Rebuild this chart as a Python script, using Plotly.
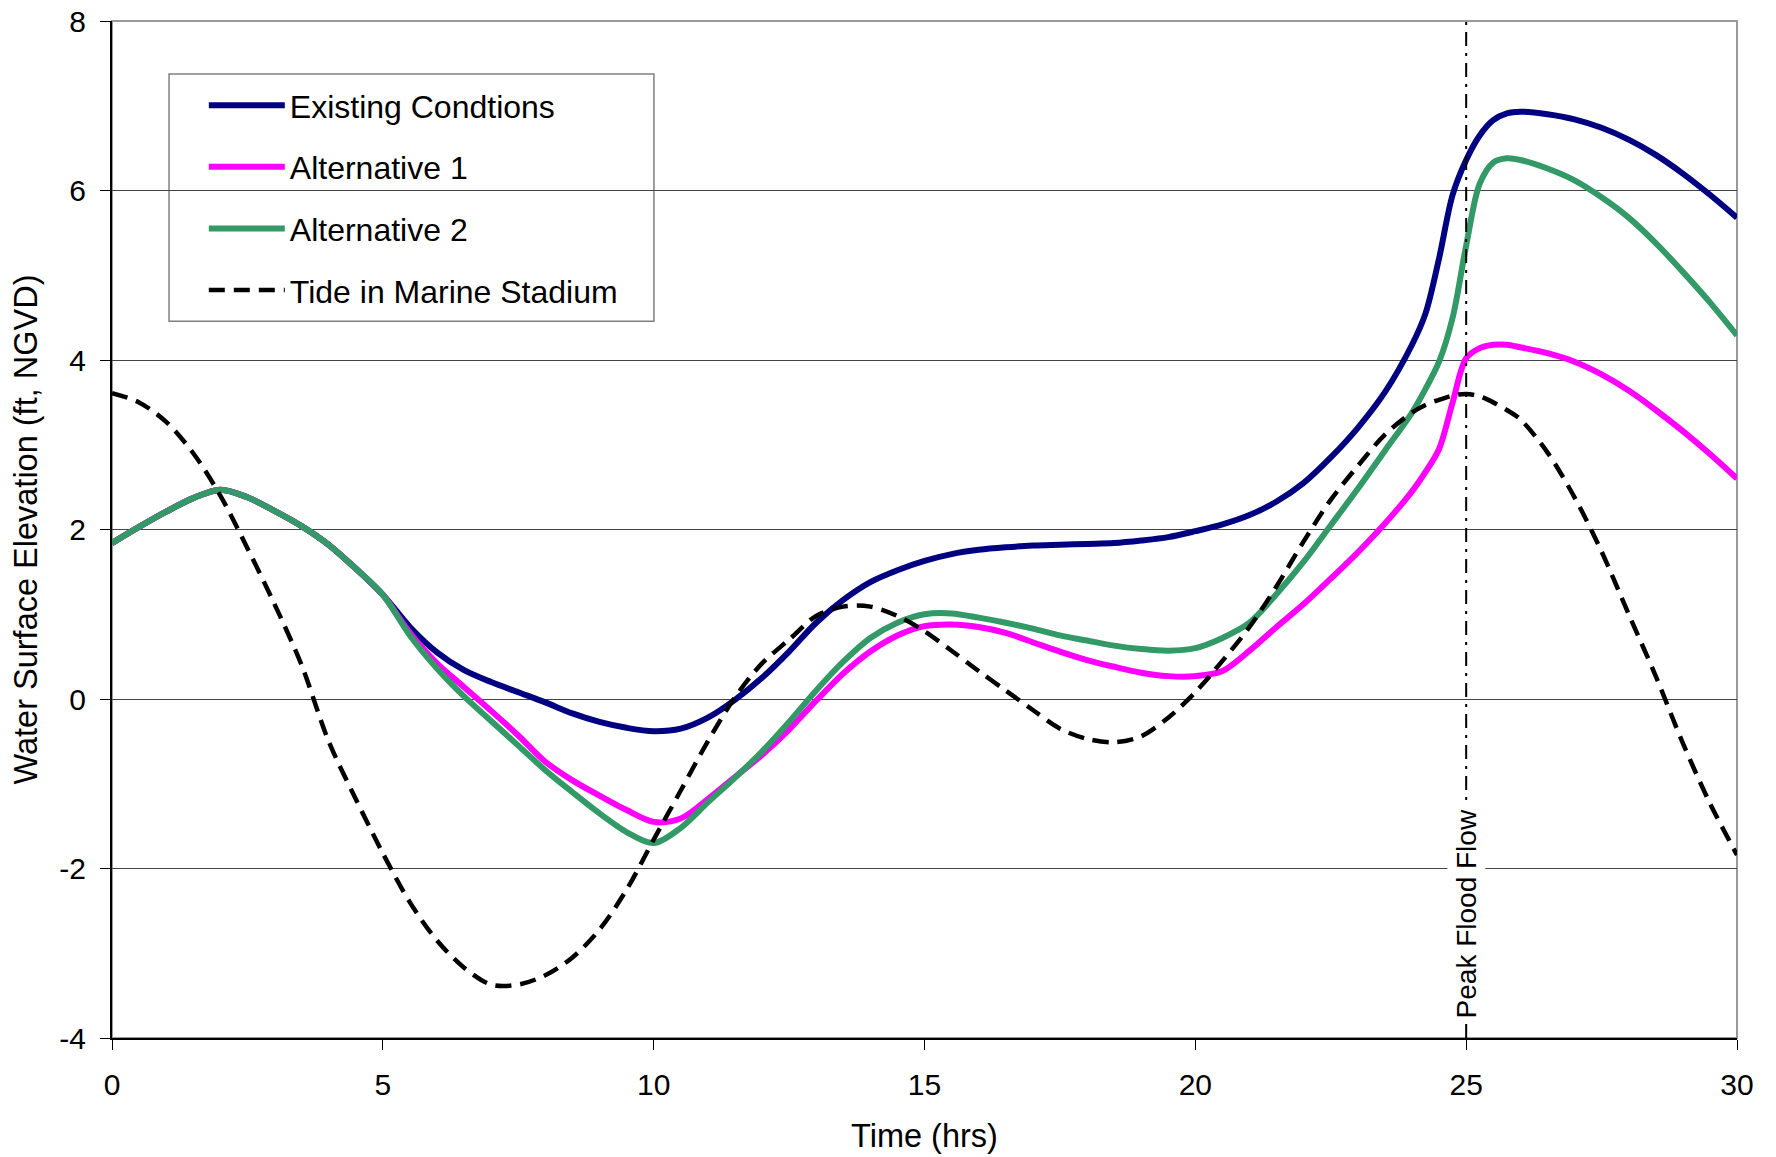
import plotly.graph_objects as go

# ---- data ----
time_hrs = [0, 0.5, 1, 1.5, 2, 2.5, 3, 3.5, 4, 4.5, 5, 5.5, 6, 6.5, 7, 7.5, 8, 8.5, 9, 9.5,
            10, 10.5, 11, 11.5, 12, 12.5, 13, 13.5, 14, 14.5, 15, 15.5, 16, 16.5, 17, 17.5,
            18, 18.5, 19, 19.5, 20, 20.5, 21, 21.5, 22, 22.5, 23, 23.5, 24, 24.25, 24.5,
            24.75, 25, 25.25, 25.5, 25.75, 26, 26.5, 27, 27.5, 28, 28.5, 29, 29.5, 30]

existing = [1.84, 2.03, 2.21, 2.37, 2.47, 2.38, 2.22, 2.04, 1.82, 1.54, 1.23, 0.85, 0.55, 0.34,
            0.20, 0.08, -0.04, -0.17, -0.27, -0.34, -0.38, -0.35, -0.22, -0.01, 0.25, 0.56,
            0.90, 1.17, 1.38, 1.52, 1.63, 1.71, 1.76, 1.79, 1.81, 1.82, 1.83, 1.84, 1.87, 1.91,
            1.98, 2.06, 2.17, 2.33, 2.55, 2.85, 3.20, 3.62, 4.18, 4.55, 5.20, 5.95, 6.36, 6.65,
            6.83, 6.91, 6.93, 6.90, 6.84, 6.74, 6.60, 6.42, 6.20, 5.95, 5.68]

alt1 = [1.84, 2.03, 2.21, 2.37, 2.47, 2.38, 2.22, 2.04, 1.82, 1.54, 1.23, 0.78, 0.42, 0.14,
        -0.14, -0.43, -0.74, -0.96, -1.14, -1.31, -1.45, -1.41, -1.18, -0.92, -0.66, -0.36,
        -0.02, 0.30, 0.56, 0.75, 0.86, 0.88, 0.85, 0.78, 0.67, 0.56, 0.46, 0.38, 0.31, 0.27,
        0.27, 0.33, 0.57, 0.85, 1.12, 1.42, 1.73, 2.07, 2.45, 2.68, 2.95, 3.50, 4.02, 4.14,
        4.18, 4.18, 4.15, 4.08, 3.98, 3.83, 3.64, 3.41, 3.16, 2.89, 2.60]

alt2 = [1.84, 2.03, 2.21, 2.37, 2.47, 2.38, 2.22, 2.04, 1.82, 1.54, 1.23, 0.75, 0.36, 0.03,
        -0.26, -0.55, -0.84, -1.10, -1.35, -1.57, -1.70, -1.52, -1.22, -0.93, -0.62, -0.27,
        0.10, 0.44, 0.72, 0.90, 1.00, 1.01, 0.96, 0.90, 0.83, 0.75, 0.69, 0.63, 0.59, 0.57,
        0.60, 0.72, 0.90, 1.24, 1.62, 2.05, 2.48, 2.93, 3.38, 3.66, 3.98, 4.50, 5.35, 6.08,
        6.33, 6.38, 6.36, 6.26, 6.12, 5.92, 5.68, 5.38, 5.04, 4.68, 4.29]

tide = [3.61, 3.50, 3.27, 2.90, 2.40, 1.78, 1.12, 0.40, -0.50, -1.18, -1.82, -2.40, -2.85,
        -3.17, -3.37, -3.37, -3.26, -3.05, -2.72, -2.25, -1.66, -1.08, -0.50, 0.02, 0.42,
        0.70, 0.98, 1.09, 1.09, 0.98, 0.80, 0.57, 0.33, 0.10, -0.13, -0.35, -0.47, -0.51,
        -0.44, -0.22, 0.08, 0.45, 0.85, 1.33, 1.86, 2.35, 2.75, 3.12, 3.38, 3.47, 3.53,
        3.58, 3.60, 3.57, 3.50, 3.41, 3.30, 2.91, 2.38, 1.74, 1.00, 0.27, -0.52, -1.23, -1.84]

series_names = ["Existing Condtions", "Alternative 1", "Alternative 2", "Tide in Marine Stadium"]
y_ticks = [-4, -2, 0, 2, 4, 6, 8]
y_tick_text = ["-4", "-2", "0", "2", "4", "6", "8"]
x_ticks = [0, 5, 10, 15, 20, 25, 30]
peak_time = 25
peak_label = "Peak Flood Flow"

FONT = "Liberation Sans, Arial, sans-serif"

fig = go.Figure()
styles = [
    dict(color="#000080", width=6),
    dict(color="#FF00FF", width=6),
    dict(color="#339966", width=6),
    dict(color="#000000", width=4.5, dash="16px,9px"),
]
for i, (name, ys) in enumerate(zip(series_names, [existing, alt1, alt2, tide])):
    fig.add_trace(go.Scatter(
        x=time_hrs, y=ys, name=name, mode="lines",
        line=dict(shape="spline", smoothing=0.9, **styles[i]),
        legendgroup=f"g{i}",
    ))

fig.update_layout(
    width=1776, height=1157,
    margin=dict(l=112, r=39, t=21, b=119, autoexpand=False),
    paper_bgcolor="white", plot_bgcolor="white",
    font=dict(family=FONT, size=30, color="black"),
    showlegend=True,
    legend=dict(
        x=0.0565, y=0.944, xanchor="left", yanchor="top",
        bgcolor="rgba(0,0,0,0)", borderwidth=0,
        font=dict(size=32, family=FONT),
        itemwidth=76, tracegroupgap=17, traceorder="grouped",
    ),
    xaxis=dict(
        range=[0, 30], tickvals=x_ticks, showgrid=False, zeroline=False,
        showline=True, linecolor="black", linewidth=2, automargin=False,
        ticks="outside", ticklen=10, tickcolor="black", tickwidth=1,
        ticklabelstandoff=9,
        title=dict(text="Time (hrs)", font=dict(size=32.5), standoff=24),
    ),
    yaxis=dict(
        range=[-4, 8], tickvals=y_ticks, ticktext=y_tick_text, automargin=False,
        showgrid=True, gridcolor="#444444", gridwidth=1, zeroline=False,
        showline=True, linecolor="black", linewidth=2,
        ticks="outside", ticklen=10, tickcolor="black", tickwidth=1,
        ticklabelstandoff=8,
        title=dict(text="Water Surface Elevation (ft, NGVD)", font=dict(size=32.5), standoff=12),
    ),
    shapes=[
        dict(type="rect", xref="paper", yref="paper", x0=0, x1=1, y0=0, y1=1,
             line=dict(color="#999999", width=2), layer="below"),
        dict(type="line", xref="x", yref="paper", x0=peak_time, x1=peak_time, y0=0, y1=1,
             line=dict(color="black", width=2, dash="14px,7px,3px,7px"), layer="above"),
        dict(type="rect", xref="paper", yref="paper", x0=0.0351, x1=0.3335, y0=0.7047, y1=0.9478,
             line=dict(color="#808080", width=1.5), fillcolor="white", layer="between"),
    ],
    annotations=[
        dict(x=peak_time, y=-2.54, xref="x", yref="y", text=peak_label, textangle=-90,
             showarrow=False, font=dict(size=28, family=FONT), bgcolor="white", borderpad=3),
    ],
)

fig.write_html("out.html")
